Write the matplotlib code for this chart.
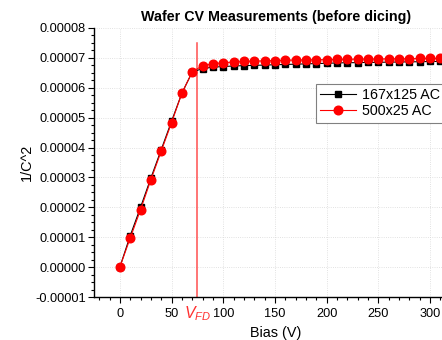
import matplotlib
matplotlib.use("Agg")
import matplotlib.pyplot as plt
from matplotlib.ticker import MultipleLocator, FormatStrFormatter

plt.rcParams['font.family'] = ['Liberation Sans', 'DejaVu Sans']
plt.rcParams['mathtext.fontset'] = 'custom'
plt.rcParams['mathtext.it'] = 'Liberation Sans:italic'
plt.rcParams['mathtext.rm'] = 'Liberation Sans'

bias = [0, 10, 20, 30, 40, 50, 60, 70, 80, 90, 100, 110, 120, 130, 140, 150, 160,
        170, 180, 190, 200, 210, 220, 230, 240, 250, 260, 270, 280, 290, 300, 310]
black_167x125 = [0.0, 1.05, 2.00, 2.98, 3.93, 4.88, 5.82, 6.53,
                 6.64, 6.69, 6.71, 6.73, 6.74, 6.75, 6.76, 6.77, 6.78, 6.79, 6.80,
                 6.81, 6.82, 6.83, 6.84, 6.84, 6.85, 6.85, 6.86, 6.86, 6.87, 6.87, 6.88, 6.88]
red_500x25 = [0.0, 0.97, 1.92, 2.92, 3.88, 4.83, 5.82, 6.53,
              6.74, 6.80, 6.84, 6.86, 6.88, 6.89, 6.90, 6.91, 6.92, 6.93, 6.93,
              6.94, 6.94, 6.95, 6.95, 6.96, 6.96, 6.96, 6.97, 6.97, 6.97, 6.98, 6.98, 6.98]
v_fd = 75
scale = 1e-5

fig = plt.figure(figsize=(4.42, 3.40), dpi=100)
ax = fig.add_axes([94/442, 43/340, (458-94)/442, (297-28)/340])

ax.plot(bias, [v*scale for v in black_167x125], color='black', lw=0.8,
        marker='s', ms=5, mfc='black', mec='black', label='167x125 AC', zorder=3)
ax.plot(bias, [v*scale for v in red_500x25], color='red', lw=0.8,
        marker='o', ms=6.2, mfc='red', mec='red', label='500x25 AC', zorder=4)

ax.plot([v_fd, v_fd], [-1e-5, 7.5e-5], color='#ff5050', lw=1.1, zorder=2, clip_on=False)

ax.set_xlim(-25, 327)
ax.set_ylim(-1e-5, 8e-5)
ax.xaxis.set_major_locator(MultipleLocator(50))
ax.xaxis.set_minor_locator(MultipleLocator(10))
ax.yaxis.set_major_locator(MultipleLocator(1e-5))
ax.yaxis.set_minor_locator(MultipleLocator(0.25e-5))
ax.yaxis.set_major_formatter(FormatStrFormatter('%.5f'))
ax.tick_params(axis='both', which='major', length=4, width=0.8, labelsize=9.2, pad=2)
ax.tick_params(axis='x', which='major', pad=4)
ax.tick_params(axis='both', which='minor', length=2.5, width=0.8)
for s in ['top', 'right']:
    ax.spines[s].set_visible(False)
for s in ['left', 'bottom']:
    ax.spines[s].set_linewidth(1.0)

ax.grid(True, which='major', color='#d8d8d8', lw=0.6, ls=':')
ax.set_axisbelow(True)

ax.set_title('Wafer CV Measurements (before dicing)', fontsize=10.3, fontweight='bold', pad=5)
ax.set_xlabel('Bias (V)', fontsize=10.4, labelpad=4)
ax.set_ylabel('1/C^2', fontsize=10.4, labelpad=1)

ax.text(75, -0.062, r'$\mathit{V}_{\mathit{FD}}$', color='#ff3030', fontsize=11.5,
        ha='center', va='center', transform=ax.get_xaxis_transform())

leg = fig.legend(loc='upper left', bbox_to_anchor=(316/442, 1-84/340), fontsize=10.3,
                 frameon=True, fancybox=False, edgecolor='#808080', framealpha=1,
                 handlelength=2.5, borderpad=0.3, labelspacing=0.15, handletextpad=0.4,
                 borderaxespad=0)
leg.get_frame().set_linewidth(0.8)

fig.savefig('out.png', dpi=100)
